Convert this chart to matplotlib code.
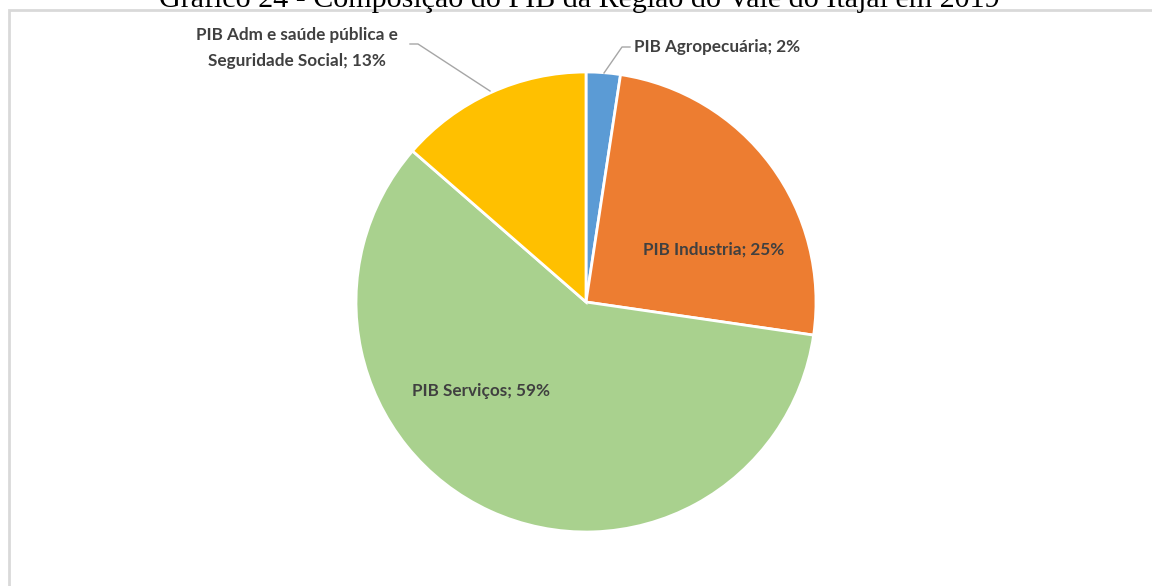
import matplotlib
matplotlib.use("Agg")
import matplotlib.pyplot as plt
from matplotlib.patches import Rectangle

TITLE = "Gráfico 24 - Composição do PIB da Região do Vale do Itajaí em 2019"
LABELS = ["PIB Agropecuária", "PIB Industria", "PIB Serviços",
          "PIB Adm e saúde pública e\nSeguridade Social"]
SHARES = [2.4, 24.9, 59.1, 13.6]
PCT_TEXT = ["2%", "25%", "59%", "13%"]
COLORS = ["#5B9BD5", "#ED7D31", "#A9D18E", "#FFC000"]

W, H = 1152, 586
fig = plt.figure(figsize=(W / 100, H / 100), dpi=100)
fig.patch.set_facecolor("white")

# chart border (cut off at right and bottom in the reference)
fig.add_artist(Rectangle((9 / W, -0.1), 1.2, 1.1 - 10 / H, transform=fig.transFigure,
                         fill=False, edgecolor="#D9D9D9", linewidth=2))

# title, partially clipped at the top of the picture
fig.text(579 / W, 1 - 7 / H, TITLE, ha="center", va="baseline",
         fontfamily="Liberation Serif", fontsize=21.6, color="black")

# pie: centre (586, 302), radius 230 px
r = 230
ax = fig.add_axes([(586 - r) / W, (H - 302 - r) / H, 2 * r / W, 2 * r / H])
wedges, _ = ax.pie(SHARES, colors=COLORS, startangle=90, counterclock=False,
                   wedgeprops=dict(edgecolor="white", linewidth=2))
ax.set_xlim(-1, 1)
ax.set_ylim(-1, 1)
ax.set_aspect("equal")
ax.axis("off")

font = dict(fontfamily="Lato", fontweight="bold", fontsize=12.3, color="#404040")


def fig_xy(px, py):
    return px / W, 1 - py / H


# inside labels
fig.text(*fig_xy(714, 250), f"{LABELS[1]}; {PCT_TEXT[1]}", ha="center", va="center", **font)
fig.text(*fig_xy(481, 391), f"{LABELS[2]}; {PCT_TEXT[2]}", ha="center", va="center", **font)

# outside labels with leader lines
fig.text(*fig_xy(634, 47), f"{LABELS[0]}; {PCT_TEXT[0]}", ha="left", va="center", **font)
fig.add_artist(plt.Line2D([604 / W, 622 / W, 630 / W],
                          [1 - 73 / H, 1 - 47 / H, 1 - 47 / H],
                          transform=fig.transFigure, color="#A6A6A6", linewidth=1))

fig.text(*fig_xy(297, 48), f"{LABELS[3]}; {PCT_TEXT[3]}", ha="center", va="center",
         linespacing=1.75, **font)
fig.add_artist(plt.Line2D([410 / W, 418 / W, 490 / W],
                          [1 - 44 / H, 1 - 44 / H, 1 - 91 / H],
                          transform=fig.transFigure, color="#A6A6A6", linewidth=1))

fig.savefig("out.png", dpi=100)
